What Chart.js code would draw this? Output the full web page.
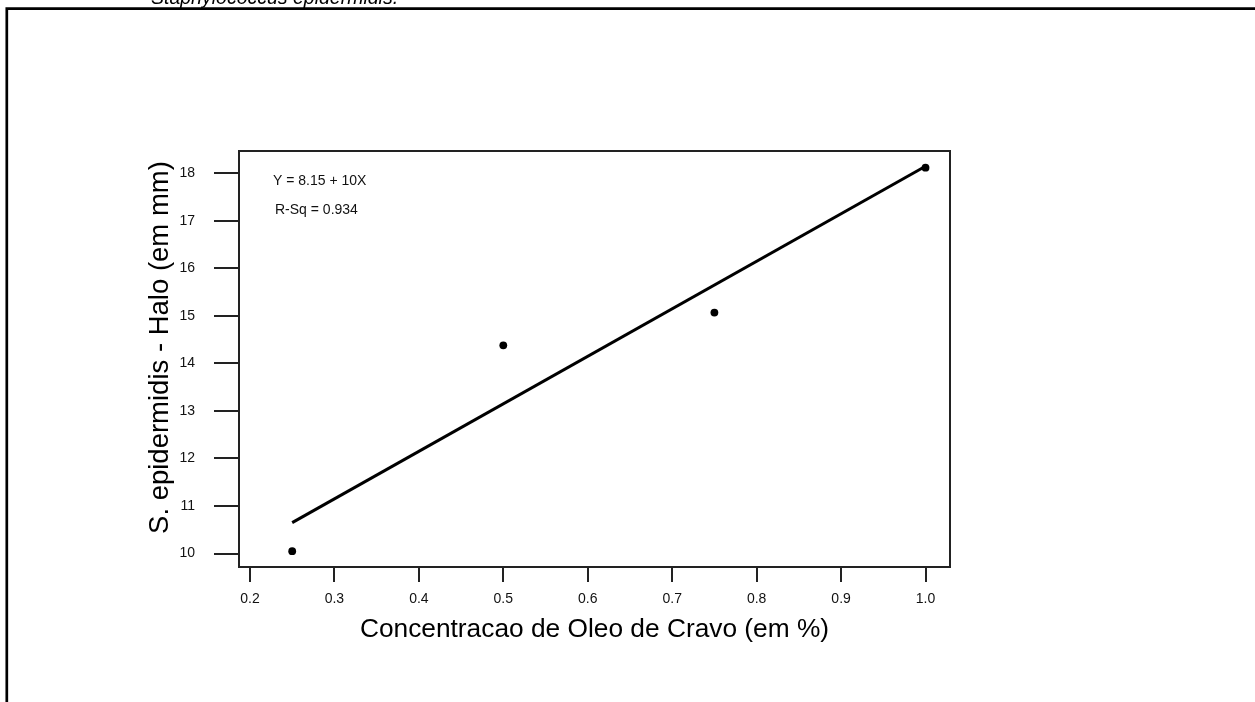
<!DOCTYPE html>
<html><head><meta charset="utf-8">
<script src="https://cdn.jsdelivr.net/npm/chart.js@4/dist/chart.umd.min.js"></script>
<style>
html,body{margin:0;padding:0;background:#fff;overflow:hidden}
#wrap{position:relative;width:1255px;height:702px}
canvas{display:block}
</style></head><body>
<div id="wrap"><canvas id="c" width="1255" height="702"></canvas></div>
<script>
// ---- data ----
const concentrations = [0.25, 0.5, 0.75, 1.0];
const haloMM = [10.05, 14.38, 15.07, 18.12];
const fitX = [0.25, 1.0];
const fitY = [10.65, 18.15];
const xTickValues = [0.2, 0.3, 0.4, 0.5, 0.6, 0.7, 0.8, 0.9, 1.0];
const yTickValues = [10, 11, 12, 13, 14, 15, 16, 17, 18];
const equationLines = ['Y = 8.15 + 10X', 'R-Sq = 0.934'];
const captionText = 'Staphylococcus epidermidis.';
const xTitle = 'Concentracao de Oleo de Cravo (em %)';
const yTitle = 'S. epidermidis - Halo (em mm)';

const FONT = 'Arial, "Liberation Sans", Helvetica, sans-serif';

const decor = {
  id: 'decor',
  afterDraw(chart) {
    const ctx = chart.ctx, a = chart.chartArea;
    ctx.save();
    // outer frame (top + left)
    ctx.strokeStyle = '#000';
    ctx.lineWidth = 2.7;
    ctx.beginPath();
    ctx.moveTo(1255, 8.7);
    ctx.lineTo(6.8, 8.7);
    ctx.lineTo(6.8, 702);
    ctx.stroke();
    // caption (cut off at top)
    ctx.fillStyle = '#000';
    ctx.font = 'italic 19.5px ' + FONT;
    ctx.textBaseline = 'alphabetic';
    ctx.textAlign = 'left';
    ctx.fillText(captionText, 151, 3.5);
    // plot box
    ctx.strokeStyle = '#222';
    ctx.lineWidth = 2;
    ctx.strokeRect(a.left, a.top, a.right - a.left, a.bottom - a.top);
    // regression annotation
    ctx.fillStyle = '#111';
    ctx.font = '14px ' + FONT;
    ctx.textBaseline = 'middle';
    ctx.fillText(equationLines[0], a.left + 34, a.top + 30.5);
    ctx.fillText(equationLines[1], a.left + 36, a.top + 59.5);
    ctx.restore();
  }
};

new Chart(document.getElementById('c'), {
  type: 'scatter',
  data: {
    datasets: [
      {
        label: 'Halo',
        data: concentrations.map((x, i) => ({x, y: haloMM[i]})),
        showLine: false,
        pointRadius: 3.9,
        pointBackgroundColor: '#000',
        pointBorderColor: '#000',
        pointBorderWidth: 0
      },
      {
        label: 'Regression',
        data: fitX.map((x, i) => ({x, y: fitY[i]})),
        showLine: true,
        borderColor: '#000',
        borderWidth: 3,
        pointRadius: 0,
        fill: false
      }
    ]
  },
  options: {
    responsive: false,
    animation: false,
    devicePixelRatio: 1,
    layout: {padding: {left: 0, top: 151, right: 305, bottom: 0}},
    plugins: {legend: {display: false}, tooltip: {enabled: false}},
    scales: {
      x: {
        type: 'linear',
        min: 0.187, max: 1.029,
        afterBuildTicks: s => { s.ticks = xTickValues.map(v => ({value: v})); },
        afterFit: s => { s.height = 135; },
        border: {display: false},
        grid: {drawOnChartArea: false, drawTicks: true, tickLength: 15, color: '#222', lineWidth: 2},
        ticks: {padding: 9, color: '#111', font: {family: FONT, size: 14}, callback: v => v.toFixed(1), maxRotation: 0, autoSkip: false},
        title: {display: true, text: xTitle, color: '#000', font: {family: FONT, size: 26.3}, padding: {top: 0, bottom: 56}}
      },
      y: {
        type: 'linear',
        min: 9.716, max: 18.47,
        afterBuildTicks: s => { s.ticks = yTickValues.map(v => ({value: v})); },
        afterFit: s => { s.width = 239; },
        border: {display: false},
        grid: {drawOnChartArea: false, drawTicks: true, tickLength: 25, color: '#222', lineWidth: 2},
        ticks: {padding: 19, color: '#111', font: {family: FONT, size: 14}, callback: v => String(v), autoSkip: false},
        title: {display: true, text: '   ' + yTitle, color: '#000', font: {family: FONT, size: 27.5}, padding: {top: 143.5, bottom: 0}}
      }
    }
  },
  plugins: [decor]
});
</script>
</body></html>
